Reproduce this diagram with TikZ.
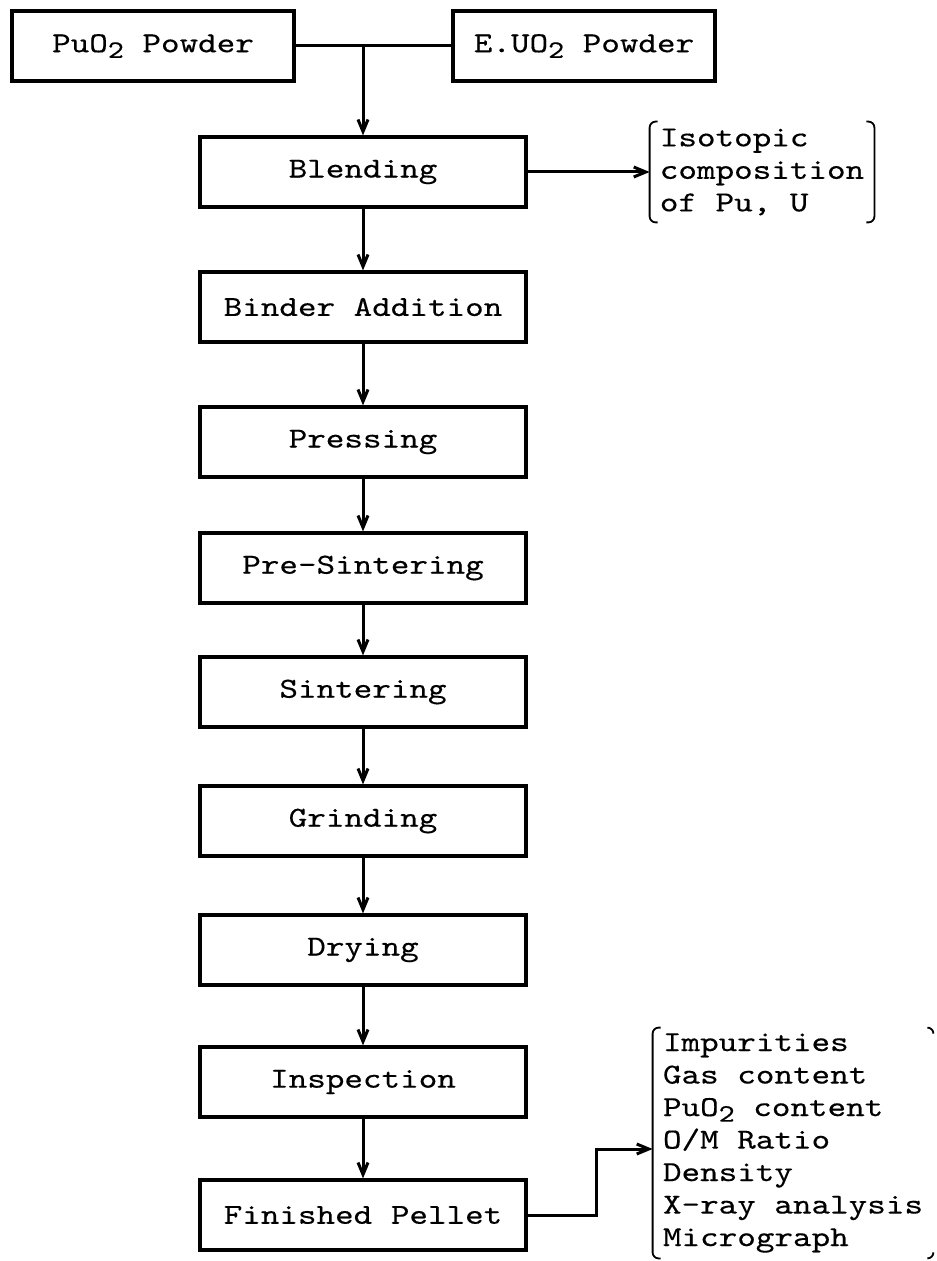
\documentclass[tikz,border=0pt]{standalone}
\usepackage{fontspec}
\setmonofont{lmmono10-regular.otf}[FakeStretch=1.22,FakeBold=0.35]
\usetikzlibrary{arrows.meta}
\newcommand{\lowtwo}{\raisebox{-0.45ex}{\fontsize{12.5}{14}\selectfont 2}}
\begin{document}
\begin{tikzpicture}[x=0.5pt,y=-0.5pt,>={Straight Barb[length=6pt,width=5pt]},
  typed/.style={font=\ttfamily\fontsize{14.5}{16.25}\selectfont},
  stepbox/.style={typed,draw,line width=1.6pt,minimum width=163pt,minimum height=35pt,inner sep=0pt},
  flow/.style={line width=1.5pt},
  result/.style={typed,align=left,inner sep=0pt},
  bracket/.style={line width=0.9pt,rounded corners=3pt}]
\useasboundingbox (0,0) rectangle (936,1261);
% feed powders
\node[stepbox,minimum width=141pt] (pu) at (153,46) {PuO\lowtwo{} Powder};
\node[stepbox,minimum width=131pt] (eu) at (584,46) {E.UO\lowtwo{} Powder};
% process steps
\node[stepbox] (blend) at (363,172) {Blending};
\node[stepbox] (binder) at (363,307) {Binder Addition};
\node[stepbox] (press) at (363,442) {Pressing};
\node[stepbox] (presint) at (363,568) {Pre-Sintering};
\node[stepbox] (sint) at (363,692) {Sintering};
\node[stepbox] (grind) at (363,821) {Grinding};
\node[stepbox] (dry) at (363,950) {Drying};
\node[stepbox] (insp) at (363,1082) {Inspection};
\node[stepbox] (fin) at (363,1215) {Finished Pellet};
% analyses
\node[result,minimum width=112pt,minimum height=50pt] (iso) at (762,172) {Isotopic\\composition\\of Pu, U};
\node[result,minimum width=140pt,minimum height=115pt] (tests) at (793,1143) {Impurities\\Gas content\\PuO\lowtwo{} content\\O/M Ratio\\Density\\X-ray analysis\\Micrograph};
\draw[flow] (pu) -- (eu);
\draw[flow,->] (blend.north |- pu.east) -- (blend.north);
\draw[flow,->] (blend) -- (binder);
\draw[flow,->] (binder) -- (press);
\draw[flow,->] (press) -- (presint);
\draw[flow,->] (presint) -- (sint);
\draw[flow,->] (sint) -- (grind);
\draw[flow,->] (grind) -- (dry);
\draw[flow,->] (dry) -- (insp);
\draw[flow,->] (insp) -- (fin);
\draw[flow,->] (blend.east) -- (iso.west);
\draw[flow,->] (fin.east) -- ++(69,0) |- ([yshift=-3pt]tests.west);
% brackets
\draw[bracket] ([xshift=4pt]iso.north west) -- (iso.north west) -- (iso.south west) -- ([xshift=4pt]iso.south west);
\draw[bracket] ([xshift=-4pt]iso.north east) -- (iso.north east) -- (iso.south east) -- ([xshift=-4pt]iso.south east);
\draw[bracket] ([xshift=4pt]tests.north west) -- (tests.north west) -- (tests.south west) -- ([xshift=4pt]tests.south west);
\draw[bracket] ([xshift=-3pt]tests.north east) -- (tests.north east) -- ([yshift=-3pt]tests.north east);
\draw[bracket] ([xshift=-3pt]tests.south east) -- (tests.south east) -- ([yshift=3pt]tests.south east);
\end{tikzpicture}
\end{document}
